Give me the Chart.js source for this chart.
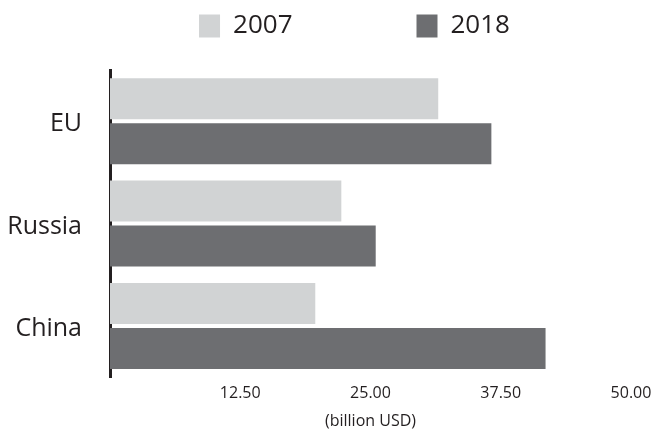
<!DOCTYPE html>
<html>
<head>
<meta charset="utf-8">
<script src="https://cdn.jsdelivr.net/npm/chart.js@4"></script>
<style>
  html, body { margin: 0; padding: 0; background: #fff; }
  canvas { display: block; }
</style>
</head>
<body>
<canvas id="chart" width="653" height="433"></canvas>
<script>
// data
const regions = ['EU', 'Russia', 'China'];
const exports2007 = [31.5, 22.2, 19.7];
const exports2018 = [36.6, 25.5, 41.8];
const seriesLabels = ['2007', '2018'];
const xTickValues = [0, 12.5, 25, 37.5, 50];

const textColor = '#231f20';
const fontFamily = '"Open Sans", "DejaVu Sans", sans-serif';
const legendGap = 124;

// push the legend down/right and leave room under it
const legendPlacement = {
  id: 'legendPlacement',
  beforeInit(chart) {
    const fit = chart.legend.fit;
    chart.legend.fit = function () {
      fit.bind(chart.legend)();
      this.height = 70;
    };
  },
  afterLayout(chart) {
    const lg = chart.legend;
    lg.top = 13 - legendGap;
    lg.left += 28;
    lg.right += 28;
  }
};

const ctx = document.getElementById('chart');
const chart = new Chart(ctx, {
  type: 'bar',
  data: {
    labels: regions,
    datasets: [{
      label: seriesLabels[0],
      data: exports2007,
      backgroundColor: '#d1d3d4',
      barPercentage: 0.911,
      categoryPercentage: 0.88
    }, {
      label: seriesLabels[1],
      data: exports2018,
      backgroundColor: '#6d6e71',
      barPercentage: 0.911,
      categoryPercentage: 0.88
    }]
  },
  options: {
    indexAxis: 'y',
    responsive: false,
    animation: false,
    devicePixelRatio: 1,
    layout: { padding: 0 },
    plugins: {
      tooltip: { enabled: false },
      legend: {
        position: 'top',
        labels: {
          boxWidth: 21,
          boxHeight: 23,
          padding: legendGap,
          color: textColor,
          font: { family: fontFamily, size: 26 }
        }
      }
    },
    scales: {
      x: {
        min: 0,
        max: 50,
        afterBuildTicks: (scale) => { scale.ticks = xTickValues.map(v => ({value: v})); },
        afterFit: (scale) => { scale.paddingRight = 22; },
        grid: { display: false, drawTicks: false },
        border: { display: false },
        ticks: {
          padding: 6.5,
          color: textColor,
          font: { family: fontFamily, size: 16 },
          callback: (val) => val === 0 ? '' : val.toFixed(2)
        },
        title: {
          display: true,
          text: '(billion USD)',
          color: textColor,
          font: { family: fontFamily, size: 16 },
          padding: { top: 2.5, bottom: 2 }
        }
      },
      y: {
        afterFit: (scale) => { scale.width = 110; },
        grid: { display: false, drawTicks: false },
        border: { display: true, color: textColor, width: 3 },
        ticks: {
          padding: 28,
          labelOffset: 3,
          color: textColor,
          font: { family: fontFamily, size: 25 }
        }
      }
    }
  },
  plugins: [legendPlacement]
});
</script>
</body>
</html>
